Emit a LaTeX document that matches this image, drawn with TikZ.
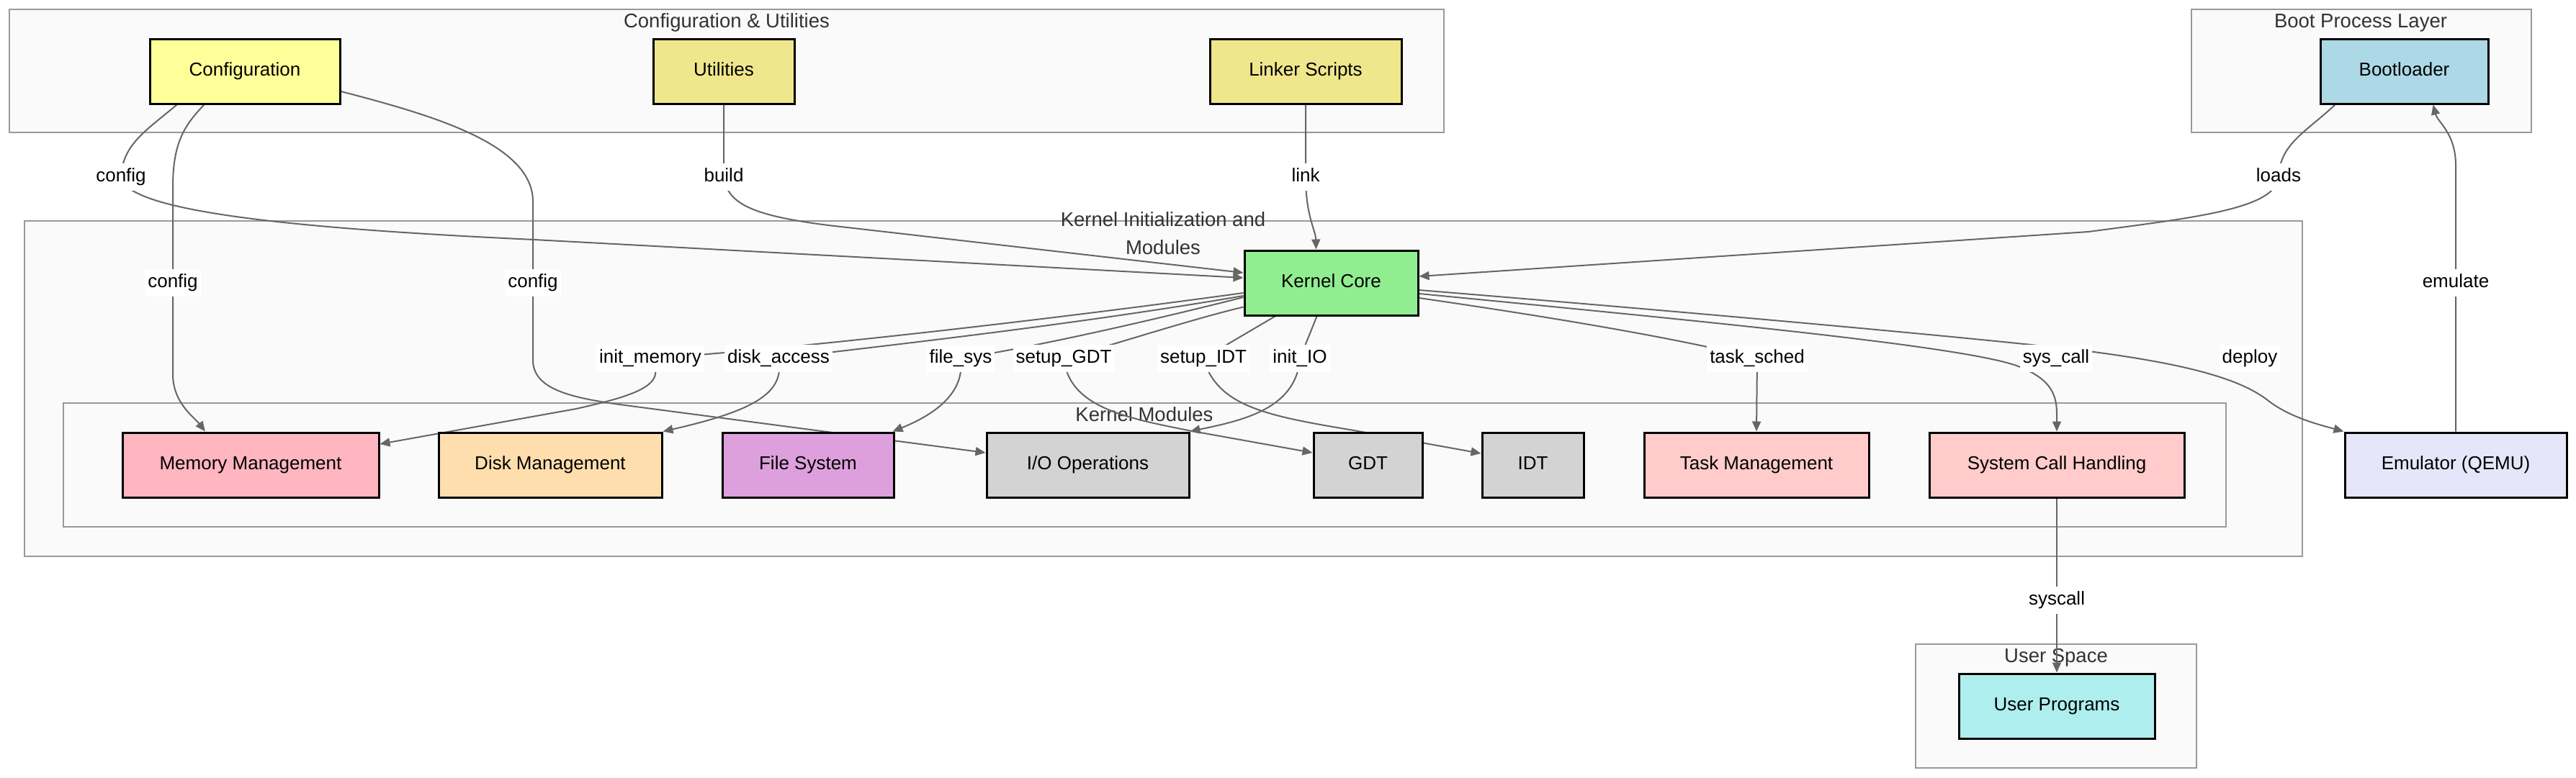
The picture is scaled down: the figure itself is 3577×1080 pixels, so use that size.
\documentclass[tikz,border=0pt]{standalone}
\usepackage{fontspec}
\setmainfont{Liberation Sans}
\usetikzlibrary{arrows.meta,calc}
\newcommand\dfont{\fontsize{26}{39}\selectfont}
\newcommand\tfont{\fontsize{27.5}{39}\selectfont}
\definecolor{cconf}{HTML}{FFFF99}
\definecolor{cutil}{HTML}{F0E68C}
\definecolor{cboot}{HTML}{ADD8E6}
\definecolor{ckern}{HTML}{90EE90}
\definecolor{cmem}{HTML}{FFB6C1}
\definecolor{cdisk}{HTML}{FFDEAD}
\definecolor{cfs}{HTML}{DDA0DD}
\definecolor{cgray}{HTML}{D3D3D3}
\definecolor{ctask}{HTML}{FFCCCB}
\definecolor{cemu}{HTML}{E6E6FA}
\definecolor{cuser}{HTML}{AFEEEE}
\definecolor{clfill}{HTML}{FAFAFA}
\definecolor{clline}{HTML}{999999}
\definecolor{cedge}{HTML}{666666}
\definecolor{ctitle}{HTML}{333333}
\pgfdeclarelayer{bg}
\pgfdeclarelayer{edges}
\pgfsetlayers{bg,edges,main}
\begin{document}
\begin{tikzpicture}[x=1pt,y=-1pt,
  box/.style={draw=black, line width=3pt, minimum height=90pt, inner sep=0pt,
    font=\dfont, text height=19pt, text depth=5.5pt, align=center},
  cluster/.style={draw=clline, line width=2pt, fill=clfill, inner sep=0pt},
  ctitle/.style={font=\tfont, text=ctitle, inner sep=0pt, text height=19pt, text depth=5.5pt, align=center},
  elabel/.style={fill=white, font=\dfont, inner xsep=4pt, inner ysep=7pt, text height=19pt, text depth=5.5pt},
  edge/.style={draw=cedge, line width=2pt, -{Triangle[length=14pt,width=12pt]}, fill=none},
]
\useasboundingbox (0,0) rectangle (3577,1080);

% clusters
\begin{pgfonlayer}{bg}
\fill[white] (0,0) rectangle (3577,1080);
\node[cluster, minimum width=1992pt, minimum height=171pt] (cu) at (1009,98.5) {};
\node[cluster, minimum width=472pt, minimum height=171pt] (bp) at (3279,98.5) {};
\node[cluster, minimum width=3163pt, minimum height=466pt] (ki) at (1615.5,540) {};
\node[cluster, minimum width=3003pt, minimum height=172pt] (km) at (1589.5,646) {};
\node[cluster, minimum width=390pt, minimum height=172pt] (us) at (2855,981) {};
\node[ctitle] (tcu) at (1009,32) {Configuration \& Utilities};
\node[ctitle] (tbp) at (3278,32) {Boot Process Layer};
\node[ctitle] (tki) at (1615,346.5) {Kernel Initialization and\\Modules};
\node[ctitle] (tkm) at (1589,579) {Kernel Modules};
\node[ctitle] (tus) at (2855,914) {User Space};
\end{pgfonlayer}

% nodes
\node[box, fill=cconf, minimum width=264pt] (conf) at (340,99) {Configuration};
\node[box, fill=cutil, minimum width=196pt] (util) at (1005,99) {Utilities};
\node[box, fill=cutil, minimum width=266pt] (linker) at (1813,99) {Linker Scripts};
\node[box, fill=cboot, minimum width=233pt] (boot) at (3338.5,99) {Bootloader};
\node[box, fill=ckern, minimum width=241pt] (kcore) at (1848.5,393) {Kernel Core};
\node[box, fill=cmem, minimum width=356pt] (mem) at (348,646) {Memory Management};
\node[box, fill=cdisk, minimum width=310pt] (disk) at (764,646) {Disk Management};
\node[box, fill=cfs, minimum width=238pt] (fs) at (1122,646) {File System};
\node[box, fill=cgray, minimum width=281pt] (io) at (1510.5,646) {I/O Operations};
\node[box, fill=cgray, minimum width=151pt] (gdt) at (1899.5,646) {GDT};
\node[box, fill=cgray, minimum width=141pt] (idt) at (2128.5,646) {IDT};
\node[box, fill=ctask, minimum width=312pt] (task) at (2439,646) {Task Management};
\node[box, fill=ctask, minimum width=354pt] (sysc) at (2856,646) {System Call Handling};
\node[box, fill=cemu, minimum width=308pt] (emu) at (3410,646) {Emulator (QEMU)};
\node[box, fill=cuser, minimum width=272pt] (user) at (2856,981) {User Programs};

% edge labels
\node[elabel] (lc1) at (168,246) {config};
\node[elabel] (lb) at (1005,246) {build};
\node[elabel] (ll) at (1813,246) {link};
\node[elabel] (lo) at (3164,246) {loads};
\node[elabel] (lc2) at (240,393) {config};
\node[elabel] (lc3) at (740,393) {config};
\node[elabel] (le) at (3410,393) {emulate};
\node[elabel] (lim) at (903,498) {init\_memory};
\node[elabel] (lda) at (1081,498) {disk\_access};
\node[elabel] (lfs) at (1334,498) {file\_sys};
\node[elabel] (lsg) at (1477,498) {setup\_GDT};
\node[elabel] (lsi) at (1671,498) {setup\_IDT};
\node[elabel] (lio) at (1805,498) {init\_IO};
\node[elabel] (lts) at (2440,498) {task\_sched};
\node[elabel] (lsc) at (2855,498) {sys\_call};
\node[elabel] (ldp) at (3124,498) {deploy};
\node[elabel] (lsy) at (2856,834) {syscall};

% edges
\begin{pgfonlayer}{edges}
\draw[edge] ($(conf.south west)+(39,0)$) .. controls (205,180) and (170,200) .. (lc1.center)
  .. controls (175,295) and (420,318) .. (742,333) -- ($(kcore.west)+(0,-7)$);
\draw[edge] ($(conf.south west)+(77,0)$) .. controls (255,175) and (240,200) .. (240,260)
  -- (lc2.center) -- (240,520) .. controls (240,560) and (270,580) .. ($(mem.north)+(-63,0)$);
\draw[edge] ($(conf.east)+(0,28)$) .. controls (600,160) and (740,200) .. (740,280)
  -- (lc3.center) -- (740,500) .. controls (740,540) and (790,552) .. (860,562) -- ($(io.west)+(0,-17)$);
\draw[edge] (util.south) -- (lb.center) .. controls (1010,285) and (1050,300) .. (1150,313)
  -- ($(kcore.west)+(0,-14)$);
\draw[edge] (linker.south) -- (ll.center) .. controls (1813,300) and (1827,320) .. ($(kcore.north)+(-21,0)$);
\draw[edge] ($(boot.south west)+(22,0)$) .. controls (3200,185) and (3166,200) .. (lo.center)
  .. controls (3160,290) and (3050,302) .. (2900,322) -- ($(kcore.east)+(0,-9)$);
\draw[edge] (emu.north) -- (le.center) -- (3410,230) .. controls (3410,185) and (3385,170) .. ($(boot.south)+(40,0)$);
\draw[edge] ($(kcore.east)+(0,21)$) .. controls (2150,440) and (2330,470) .. (lts.center) -- (task.north);
\draw[edge] ($(kcore.east)+(0,15)$) .. controls (2350,445) and (2720,480) .. (2800,508)
  .. controls (2845,525) and (2856,545) .. (2856,575) -- (sysc.north);
\draw[edge] ($(kcore.east)+(0,10)$) .. controls (2400,438) and (2800,475) .. (2900,488)
  .. controls (3030,505) and (3110,525) .. (3150,557) .. controls (3180,580) and (3220,590) .. (emu.north west);
\draw[edge] ($(kcore.west)+(0,14)$) .. controls (1450,445) and (1100,485) .. (lim.center)
  .. controls (930,535) and (880,550) .. (800,568) -- ($(mem.east)+(0,-29)$);
\draw[edge] ($(kcore.west)+(0,18)$) .. controls (1500,450) and (1250,478) .. (lda.center)
  .. controls (1090,545) and (1050,570) .. (disk.north east);
\draw[edge] ($(kcore.west)+(0,20)$) .. controls (1620,440) and (1450,480) .. (lfs.center)
  .. controls (1340,545) and (1300,575) .. ($(fs.north east)+(-3,0)$);
\draw[edge] ($(kcore.south west)+(0,-13)$) .. controls (1650,445) and (1560,475) .. (lsg.center)
  .. controls (1485,565) and (1560,580) .. (1650,598) -- ($(gdt.west)+(0,-17)$);
\draw[edge] ($(kcore.south)+(-78,0)$) -- (lsi.center) .. controls (1690,565) and (1760,578) .. (1880,598)
  -- ($(idt.west)+(0,-16)$);
\draw[edge] ($(kcore.south)+(-20,0)$) -- (lio.center) .. controls (1800,570) and (1720,585) .. (io.north east);
\draw[edge] (sysc.south) -- (lsy.center) -- (user.north);
\end{pgfonlayer}
\end{tikzpicture}
\end{document}
